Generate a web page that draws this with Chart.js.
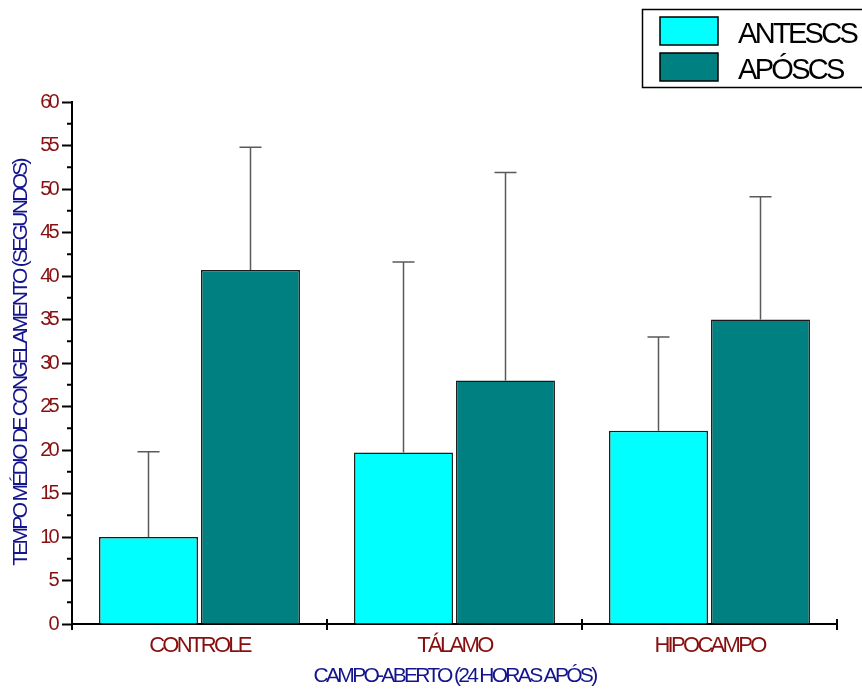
<!DOCTYPE html>
<html>
<head>
<meta charset="utf-8">
<script src="https://cdn.jsdelivr.net/npm/chart.js@4.4.1/dist/chart.umd.min.js"></script>
<style>
  html, body { margin: 0; padding: 0; background: #fff; }
  canvas { display: block; }
</style>
</head>
<body>
<canvas id="myChart" width="862" height="689"></canvas>
<script>
const categories = ['CONTROLE', 'TÁLAMO', 'HIPOCAMPO'];
const seriesLabels = ['ANTESCS', 'APÓSCS'];
const antesMean = [10.0, 19.7, 22.2];
const antesErr = [9.8, 21.9, 10.8];
const aposMean = [40.7, 28.0, 35.0];
const aposErr = [14.1, 23.9, 14.1];
const yTicks = [0, 5, 10, 15, 20, 25, 30, 35, 40, 45, 50, 55, 60];

const FONT = '"Liberation Sans", Arial, sans-serif';
const RED = '#870f0f';
const NAVY = '#14148c';

// condensed look for all canvas text
const condensed = {
  id: 'condensed',
  beforeDraw(chart) {
    chart.ctx.letterSpacing = '-2.7px';
  }
};

// upper error bars, drawn under the bars
const errorBars = {
  id: 'errorBars',
  beforeDatasetsDraw(chart) {
    const ctx = chart.ctx;
    const y = chart.scales.y;
    const errs = [antesErr, aposErr];
    ctx.save();
    ctx.strokeStyle = '#5a5a5a';
    ctx.lineWidth = 1.5;
    chart.data.datasets.forEach((ds, di) => {
      chart.getDatasetMeta(di).data.forEach((bar, i) => {
        const top = y.getPixelForValue(ds.data[i] + errs[di][i]);
        ctx.beginPath();
        ctx.moveTo(bar.x, bar.y);
        ctx.lineTo(bar.x, top);
        ctx.moveTo(bar.x - 11, top);
        ctx.lineTo(bar.x + 11, top);
        ctx.stroke();
      });
    });
    ctx.restore();
  }
};

// minor y ticks, category boundary ticks, legend box
const extras = {
  id: 'extras',
  afterDraw(chart) {
    const ctx = chart.ctx;
    const x = chart.scales.x;
    const y = chart.scales.y;
    const area = chart.chartArea;
    ctx.save();
    ctx.strokeStyle = '#000';
    ctx.lineWidth = 2;
    ctx.beginPath();
    for (let i = 0; i < yTicks.length - 1; i++) {
      const py = y.getPixelForValue((yTicks[i] + yTicks[i + 1]) / 2);
      ctx.moveTo(area.left - 5, py);
      ctx.lineTo(area.left, py);
    }
    const half = (x.getPixelForValue(1) - x.getPixelForValue(0)) / 2;
    for (let i = 0; i <= categories.length; i++) {
      const px = x.getPixelForValue(i) - half;
      ctx.moveTo(px, area.bottom - 5);
      ctx.lineTo(px, area.bottom + 6);
    }
    ctx.moveTo(area.left, area.bottom);
    ctx.lineTo(area.left, area.bottom + 6);
    ctx.stroke();

    // legend
    ctx.lineWidth = 1.5;
    ctx.strokeStyle = '#000';
    ctx.strokeRect(642.5, 9.5, 230, 78);
    ctx.font = '29px ' + FONT;
    ctx.textBaseline = 'alphabetic';
    ctx.textAlign = 'left';
    chart.data.datasets.forEach((ds, i) => {
      const top = 17 + i * 36;
      ctx.fillStyle = ds.backgroundColor;
      ctx.fillRect(660, top, 58, 28);
      ctx.lineWidth = 1.5;
      ctx.strokeRect(660, top, 58, 28);
      ctx.fillStyle = '#000';
      ctx.fillText(ds.label, 738, top + 26);
    });
    ctx.restore();
  }
};

new Chart(document.getElementById('myChart').getContext('2d'), {
  type: 'bar',
  data: {
    labels: categories,
    datasets: [
      {
        label: seriesLabels[0],
        data: antesMean,
        backgroundColor: '#00ffff',
        borderColor: '#1a1a1a',
        borderWidth: 1.5,
        categoryPercentage: 0.8,
        barPercentage: 0.97,
      },
      {
        label: seriesLabels[1],
        data: aposMean,
        backgroundColor: '#008080',
        borderColor: '#1a1a1a',
        borderWidth: 1.5,
        categoryPercentage: 0.8,
        barPercentage: 0.97,
      },
    ],
  },
  options: {
    responsive: false,
    animation: false,
    layout: { padding: { top: 102, right: 25, left: 0, bottom: 0 } },
    plugins: {
      legend: { display: false },
      tooltip: { enabled: false },
    },
    scales: {
      x: {
        grid: { display: false },
        border: { display: true, color: '#000', width: 2 },
        ticks: { color: RED, font: { family: FONT, size: 22 }, padding: 1 },
        title: {
          display: true,
          text: 'CAMPO-ABERTO (24 HORAS APÓS)',
          color: NAVY,
          font: { family: FONT, size: 21 },
          padding: 0,
        },
        afterFit(scale) { scale.height = 65; },
      },
      y: {
        min: 0,
        max: 60,
        afterBuildTicks(scale) { scale.ticks = yTicks.map(v => ({ value: v })); },
        grid: {
          drawOnChartArea: false,
          drawTicks: true,
          tickLength: 10,
          tickWidth: 2,
          color: '#000',
        },
        border: { display: true, color: '#000', width: 2 },
        ticks: { color: RED, font: { family: FONT, size: 20 }, padding: 5 },
        title: {
          display: true,
          text: 'TEMPO MÉDIO DE CONGELAMENTO (SEGUNDOS)',
          color: NAVY,
          font: { family: FONT, size: 21 },
          padding: 9,
        },
        afterFit(scale) { scale.width = 72; },
      },
    },
  },
  plugins: [condensed, errorBars, extras],
});
</script>
</body>
</html>
